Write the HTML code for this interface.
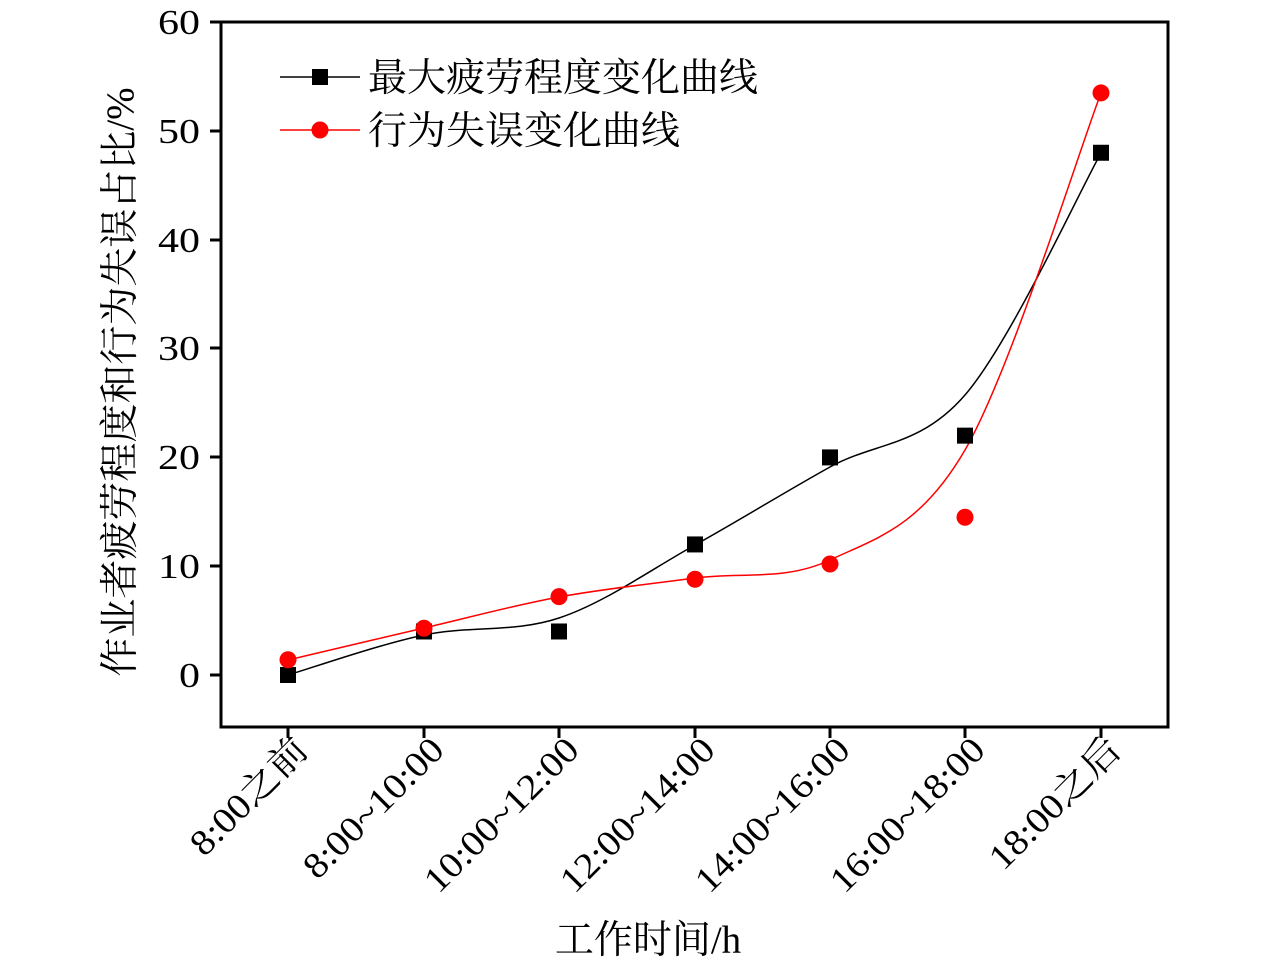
<!DOCTYPE html>
<html><head><meta charset="utf-8"><style>
html,body{margin:0;padding:0;background:#fff;}
svg text{font-family:"Liberation Serif","Noto Serif CJK SC",serif;fill:#000;}
</style></head><body>
<svg id="s" width="1280" height="969" viewBox="0 0 1280 969" xmlns="http://www.w3.org/2000/svg">
<rect x="221" y="22" width="947" height="705" fill="none" stroke="#000" stroke-width="3"/>
<g stroke="#000" stroke-width="3">
<line x1="210" y1="22" x2="221" y2="22"/><line x1="210" y1="131" x2="221" y2="131"/>
<line x1="210" y1="240" x2="221" y2="240"/><line x1="210" y1="348" x2="221" y2="348"/>
<line x1="210" y1="457" x2="221" y2="457"/><line x1="210" y1="566" x2="221" y2="566"/>
<line x1="210" y1="675" x2="221" y2="675"/>
<line x1="288" y1="727" x2="288" y2="738"/><line x1="424" y1="727" x2="424" y2="738"/>
<line x1="559" y1="727" x2="559" y2="738"/><line x1="695" y1="727" x2="695" y2="738"/>
<line x1="830" y1="727" x2="830" y2="738"/><line x1="965" y1="727" x2="965" y2="738"/>
<line x1="1101" y1="727" x2="1101" y2="738"/>
</g>
<g font-size="35" text-anchor="end" transform="translate(200,0) scale(1.2,1) translate(-200,0)">
<text x="200" y="34">60</text><text x="200" y="143">50</text><text x="200" y="252">40</text>
<text x="200" y="360">30</text><text x="200" y="469">20</text><text x="200" y="578">10</text>
<text x="200" y="687">0</text>
</g>
<g font-size="36" text-anchor="end">
<text transform="translate(310,752) rotate(-45) scale(1.1,1)">8:00之前</text>
<text transform="translate(446,752) rotate(-45) scale(1.1,1)">8:00~10:00</text>
<text transform="translate(581,752) rotate(-45) scale(1.1,1)">10:00~12:00</text>
<text transform="translate(717,752) rotate(-45) scale(1.1,1)">12:00~14:00</text>
<text transform="translate(852,752) rotate(-45) scale(1.1,1)">14:00~16:00</text>
<text transform="translate(987,752) rotate(-45) scale(1.1,1)">16:00~18:00</text>
<text transform="translate(1123,752) rotate(-45) scale(1.1,1)">18:00之后</text>
</g>
<text x="648" y="953" font-size="39" text-anchor="middle">工作时间/h</text>
<text transform="translate(133,382) rotate(-90)" font-size="39" text-anchor="middle">作业者疲劳程度和行为失误占比/%</text>
<path id="bk" fill="none" stroke="#000" stroke-width="1.5"/>
<path id="rd" fill="none" stroke="#f00" stroke-width="1.5"/>
<g id="mk"></g>
<line x1="280" y1="77" x2="360" y2="77" stroke="#000" stroke-width="1.5"/>
<rect x="312" y="69" width="16" height="16" fill="#000"/>
<text x="368" y="91" font-size="39">最大疲劳程度变化曲线</text>
<line x1="280" y1="130" x2="360" y2="130" stroke="#f00" stroke-width="1.5"/>
<circle cx="320" cy="130" r="8.5" fill="#f00"/>
<text x="368" y="144" font-size="39">行为失误变化曲线</text>
</svg>
<script>
function cr(p){let d="M"+p[0][0]+","+p[0][1];for(let i=0;i<p.length-1;i++){const a=p[i-1]||p[i],b=p[i],c=p[i+1],e=p[i+2]||c;d+=" C"+(b[0]+(c[0]-a[0])/6)+","+(b[1]+(c[1]-a[1])/6)+" "+(c[0]-(e[0]-b[0])/6)+","+(c[1]-(e[1]-b[1])/6)+" "+c[0]+","+c[1];}return d;}
document.getElementById("bk").setAttribute("d",cr([[288,675],[424,635],[559,618],[695,545],[830,467],[965,395],[1101,153]]));
document.getElementById("rd").setAttribute("d",cr([[288,660],[424,628],[559,597],[695,578],[830,560],[965,450],[1101,93]]));
const X=[288,424,559,695,830,965,1101],B=[0,4,4,12,20,22,48],R=[1.4,4.3,7.2,8.8,10.2,14.5,53.5];
let h="";const y=v=>675-v*10.88;
X.forEach((x,i)=>{h+=`<rect x="${x-8}" y="${y(B[i])-8}" width="16" height="16" fill="#000"/>`;h+=`<circle cx="${x}" cy="${y(R[i])}" r="8.5" fill="#f00"/>`;});
document.getElementById("mk").innerHTML=h;
</script>
</body></html>
